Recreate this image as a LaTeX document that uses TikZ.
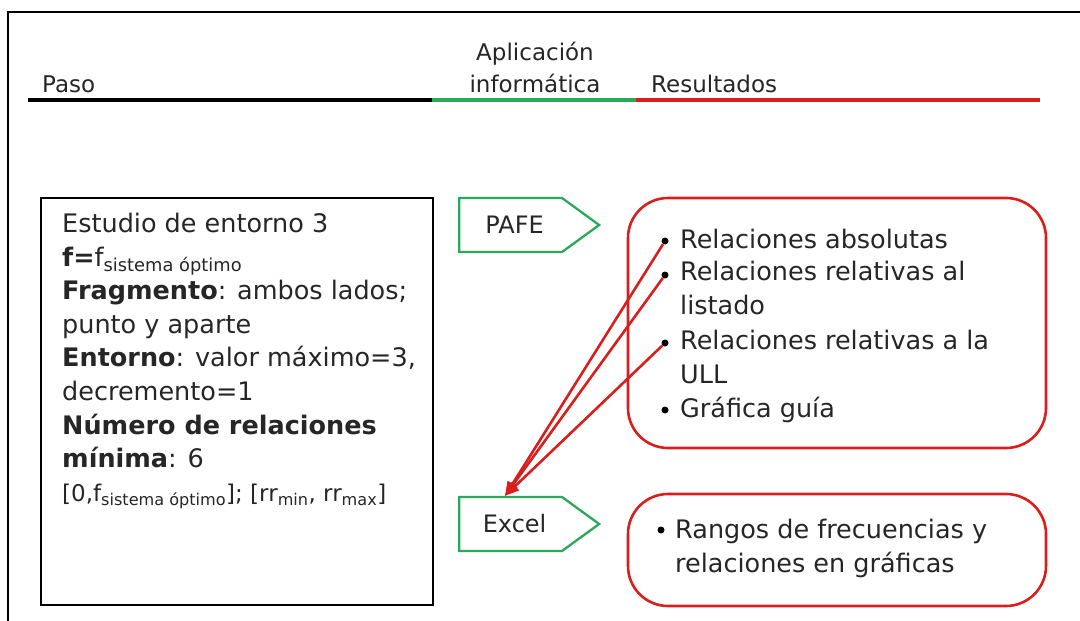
\documentclass[tikz,border=0pt]{standalone}
\usepackage{fontspec}
\setmainfont{DejaVu Sans}
\usetikzlibrary{arrows.meta,shapes.symbols,positioning}
\definecolor{appgreen}{HTML}{2BA85A}
\definecolor{resred}{HTML}{D91E1E}
\definecolor{inkgrey}{HTML}{262626}

\begin{document}
\begin{tikzpicture}[x=1pt,y=-1pt,>={Triangle[length=14pt,width=11pt]},
  every node/.style={inner sep=0pt,text=inkgrey},
  head/.style={font=\fontsize{23}{32}\selectfont},
  body/.style={font=\fontsize{25.5}{33.6}\selectfont},
  app/.style={signal,signal to=east,signal pointer angle=72,draw=appgreen,line width=2.3pt,
    minimum width=140pt,minimum height=54pt,font=\fontsize{24}{26}\selectfont},
  resbox/.style={draw=resred,line width=2.6pt,rounded corners=40pt},
  dot/.style={circle,fill=black,minimum size=7pt},
  link/.style={->,resred,line width=2.6pt}]
\useasboundingbox (0,0) rectangle (1080,621);
\draw[line width=2.5pt] (8,621) -- (8,12) -- (1080,12);
\node[head,anchor=base west] (paso) at (42,92) {Paso};
\node[head,anchor=base,align=center] (aplic) at (535,92) {Aplicación\\informática};
\node[head,anchor=base west] (resul) at (651,92) {Resultados};
\draw[line width=4pt] (28,100) -- (432,100);
\draw[appgreen,line width=4pt] (432,100) -- (636,100);
\draw[resred,line width=4pt] (636,100) -- (1040,100);
\draw[line width=1.6pt] (41,198) rectangle (433,605);
\node[body,anchor=north west,align=left] (estudio) at (62,213) {Estudio de entorno 3\\
  \textbf{f=}f\textsubscript{sistema óptimo}\\
  \textbf{Fragmento}: ambos lados;\\
  punto y aparte\\
  \textbf{Entorno}: valor máximo=3,\\
  decremento=1\\
  \textbf{Número de relaciones}\\
  \textbf{mínima}: 6\\
  {\fontsize{23}{33.6}\selectfont [0,f\textsubscript{sistema óptimo}]; [rr\textsubscript{min}, rr\textsubscript{max}]}};
\node[app,anchor=west] (pafe) at (458,225) {\hspace{8pt}PAFE};
\node[app,anchor=west] (excel) at (458,524) {\hspace{8pt}Excel};
\draw[resbox] (628,198) rectangle (1046,448);
\draw[resbox] (628,494) rectangle (1046,606);
\node[dot] (b1) at (665,241) {};
\node[body,anchor=base west] (r1) at (680,248) {Relaciones absolutas};
\node[dot] (b2) at (665,275) {};
\node[body,anchor=base west,align=left] (r2) at (680,314) {Relaciones relativas al\\listado};
\node[dot] (b3) at (665,343) {};
\node[body,anchor=base west,align=left] (r3) at (680,383) {Relaciones relativas a la\\ULL};
\node[dot] (b4) at (665,410) {};
\node[body,anchor=base west] (r4) at (680,417) {Gráfica guía};
\node[dot] (b5) at (661,530) {};
\node[body,anchor=base west,align=left] (r5) at (675,572) {Rangos de frecuencias y\\relaciones en gráficas};
\coordinate (exin) at ([xshift=47pt]excel.north west);
\foreach \b in {b1,b2,b3}
  \draw[link] (\b) -- (exin);
\end{tikzpicture}
\end{document}
